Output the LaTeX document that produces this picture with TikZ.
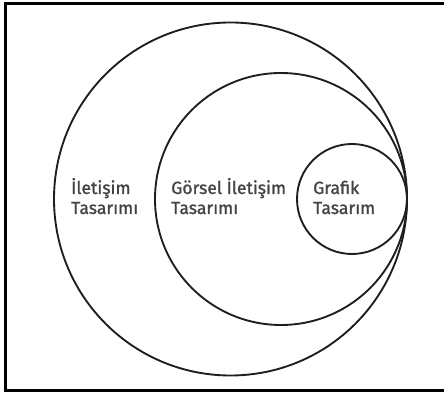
\documentclass[tikz,border=0pt]{standalone}
\usepackage{fontspec}
\setmainfont{Fira Sans}
\newfontfamily\labelfont[FakeBold=1.2]{Fira Sans}
\usepackage{xcolor}
\definecolor{ringline}{HTML}{1E1E1E}
\definecolor{labelgray}{HTML}{444444}

\begin{document}
\begin{tikzpicture}[x=0.03cm,y=0.03cm,
    ring/.style={draw=ringline,line width=1.6pt},
    lbl/.style={anchor=base west,align=left,inner sep=0pt,text=labelgray,
      font=\labelfont\fontsize{15}{17.1}\selectfont}]
  \useasboundingbox (0,0) rectangle (444,394);
  \draw[line width=2.2pt] (5.5,3.5) rectangle (452,390.5);
  % nested circles, all touching at the right
  \draw[ring] (230.5,195) circle (176.5);
  \draw[ring] (281,195) circle (126);
  \draw[ring] (352,195) circle (55);
  \node[lbl] (iletisim) at (71,180) {İletişim\\Tasarımı};
  \node[lbl] (gorsel) at (171,180) {Görsel İletişim\\Tasarımı};
  \node[lbl] (grafik) at (313,180) {Grafik\\Tasarım};
\end{tikzpicture}
\end{document}
